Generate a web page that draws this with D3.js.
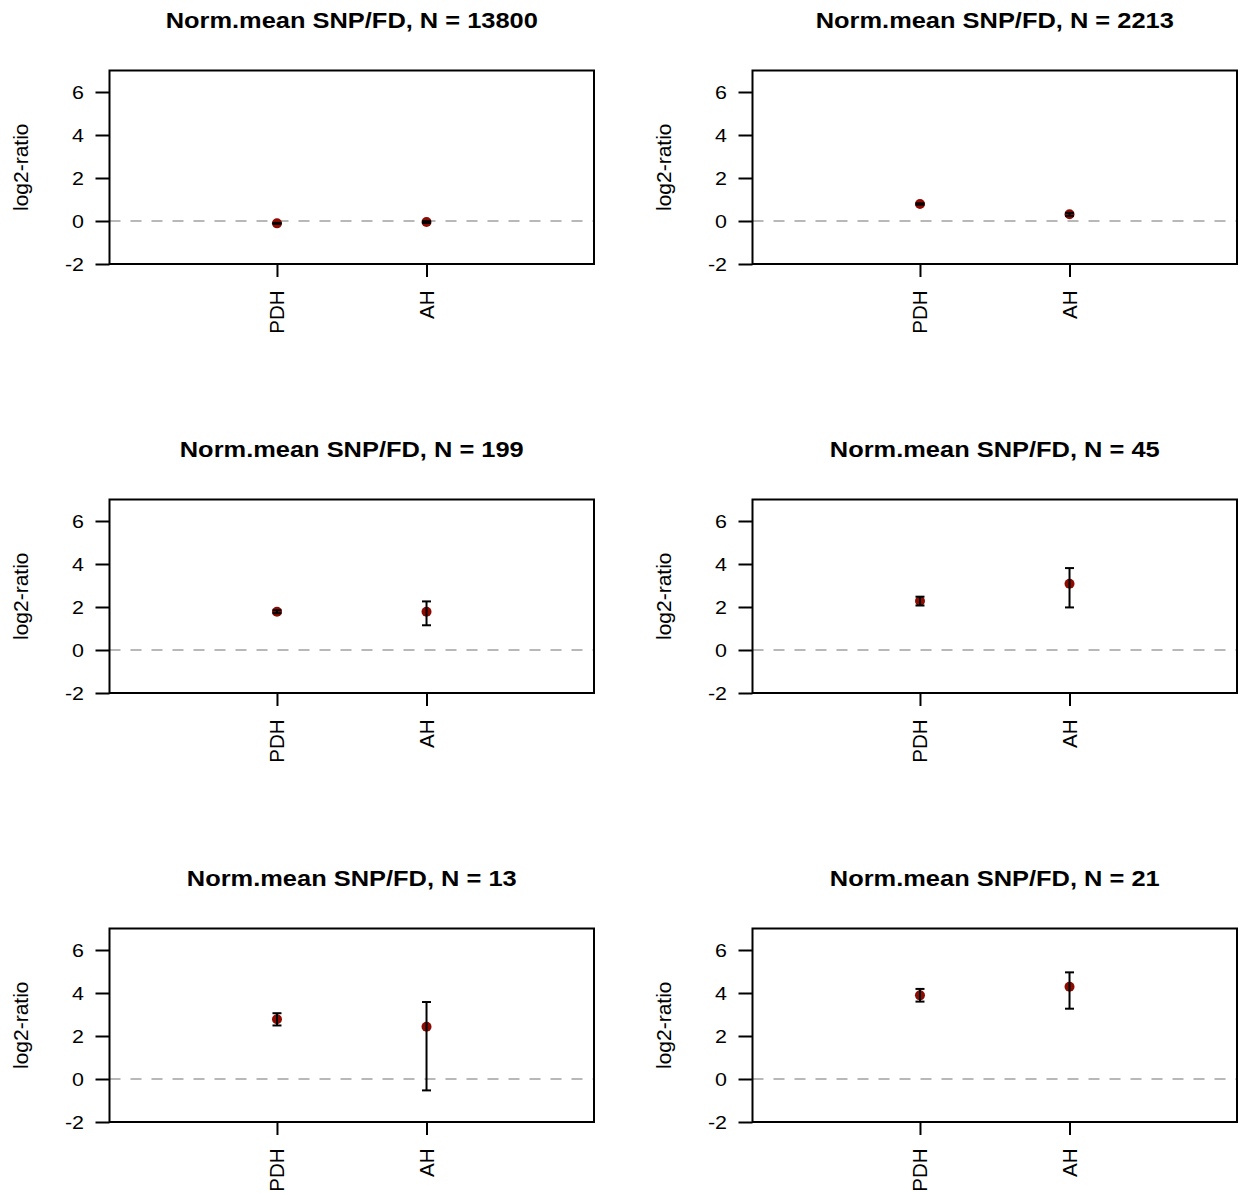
<!DOCTYPE html>
<html>
<head>
<meta charset="utf-8">
<script src="https://cdn.jsdelivr.net/npm/d3@7"></script>
<style>
  html, body { margin: 0; padding: 0; background: #fff; }
  svg { display: block; }
  text { font-family: "Liberation Sans", Arial, Helvetica, sans-serif; fill: #000; }
</style>
</head>
<body>
<script>
// Panel sample sizes (one panel per group), in reading order
const panelN = [13800, 2213, 199, 45, 13, 21];
const groups = ["PDH", "AH"];
const yTicks = [-2, 0, 2, 4, 6];

// Normalised mean log2-ratio with lower / upper error bounds per panel
const pdhMean = [-0.11, 0.79, 1.78, 2.28, 2.78, 3.89];
const pdhLow  = [-0.13, 0.76, 1.71, 2.07, 2.49, 3.60];
const pdhHigh = [-0.09, 0.82, 1.85, 2.48, 3.06, 4.19];
const ahMean  = [-0.05, 0.31, 1.78, 3.08, 2.43, 4.29];
const ahLow   = [-0.09, 0.24, 1.15, 1.98, -0.53, 3.27];
const ahHigh  = [-0.01, 0.38, 2.26, 3.81, 3.58, 4.96];

const W = 1239, H = 1193;
const colX = [0, 643];
const rowY = [0, 429, 858];
const box = { left: 109.5, right: 594, top: 70.5, bottom: 264 };

const svg = d3.select("body").append("svg")
  .attr("width", W).attr("height", H);

const x = d3.scaleLinear().domain([-0.12, 3.12]).range([box.left, box.right]);
const y = d3.scaleLinear().domain([-2, 7]).range([box.bottom, box.top]);

panelN.forEach((n, i) => {
  const g = svg.append("g")
    .attr("transform", `translate(${colX[i % 2]},${rowY[Math.floor(i / 2)]})`);

  const pts = [
    { name: groups[0], pos: 1, mean: pdhMean[i], lo: pdhLow[i], hi: pdhHigh[i] },
    { name: groups[1], pos: 2, mean: ahMean[i], lo: ahLow[i], hi: ahHigh[i] }
  ];

  // title
  g.append("text")
    .attr("transform", `translate(${(box.left + box.right) / 2},27.5) scale(1.13,1)`)
    .attr("text-anchor", "middle")
    .attr("font-weight", "bold")
    .attr("font-size", 22.5)
    .text(`Norm.mean SNP/FD, N = ${n}`);

  // reference line at zero
  g.append("line")
    .attr("x1", box.left).attr("x2", box.right)
    .attr("y1", y(0)).attr("y2", y(0))
    .attr("stroke", "#b8b8b8").attr("stroke-width", 2)
    .attr("stroke-dasharray", "11,10");

  // points
  g.selectAll("circle.pt").data(pts).join("circle")
    .attr("class", "pt")
    .attr("cx", d => x(d.pos)).attr("cy", d => y(d.mean))
    .attr("r", 5)
    .attr("fill", "#8e0b02");

  // error bars
  const eb = g.selectAll("g.eb").data(pts).join("g").attr("class", "eb");
  eb.append("line")
    .attr("x1", d => x(d.pos)).attr("x2", d => x(d.pos))
    .attr("y1", d => y(d.lo)).attr("y2", d => y(d.hi))
    .attr("stroke", "#000").attr("stroke-width", 2);
  eb.append("line")
    .attr("x1", d => x(d.pos) - 4.5).attr("x2", d => x(d.pos) + 4.5)
    .attr("y1", d => y(d.lo)).attr("y2", d => y(d.lo))
    .attr("stroke", "#000").attr("stroke-width", 2);
  eb.append("line")
    .attr("x1", d => x(d.pos) - 4.5).attr("x2", d => x(d.pos) + 4.5)
    .attr("y1", d => y(d.hi)).attr("y2", d => y(d.hi))
    .attr("stroke", "#000").attr("stroke-width", 2);

  // y axis
  const ya = g.append("g").attr("transform", `translate(${box.left},0)`)
    .call(d3.axisLeft(y).tickValues(yTicks).tickSize(14).tickPadding(0).tickFormat(d3.format("d")));
  ya.select(".domain").remove();
  ya.selectAll(".tick line").attr("stroke", "#000").attr("stroke-width", 2);
  ya.selectAll(".tick text")
    .attr("x", null).attr("dy", null)
    .attr("font-size", 18.5)
    .attr("text-anchor", "end")
    .attr("transform", "translate(-25.5,6.5) scale(1.16,1)")
    .text(d => d < 0 ? "-" + Math.abs(d) : d);

  // x axis with rotated group names
  const xa = g.append("g").attr("transform", `translate(0,${box.bottom})`)
    .call(d3.axisBottom(x).tickValues(pts.map(d => d.pos)).tickSize(13).tickFormat((d, k) => groups[k]));
  xa.select(".domain").remove();
  xa.selectAll(".tick line").attr("stroke", "#000").attr("stroke-width", 2);
  xa.selectAll(".tick text")
    .attr("y", null).attr("dy", null)
    .attr("font-size", 20.5)
    .attr("text-anchor", "end")
    .attr("transform", "translate(7,26.5) rotate(-90)");

  // frame
  g.append("rect")
    .attr("x", box.left).attr("y", box.top)
    .attr("width", box.right - box.left).attr("height", box.bottom - box.top)
    .attr("fill", "none").attr("stroke", "#000").attr("stroke-width", 2);

  // y axis title
  g.append("text")
    .attr("transform", `translate(28,${(box.top + box.bottom) / 2}) rotate(-90)`)
    .attr("text-anchor", "middle")
    .attr("font-size", 21)
    .text("log2-ratio");
});
</script>
</body>
</html>
